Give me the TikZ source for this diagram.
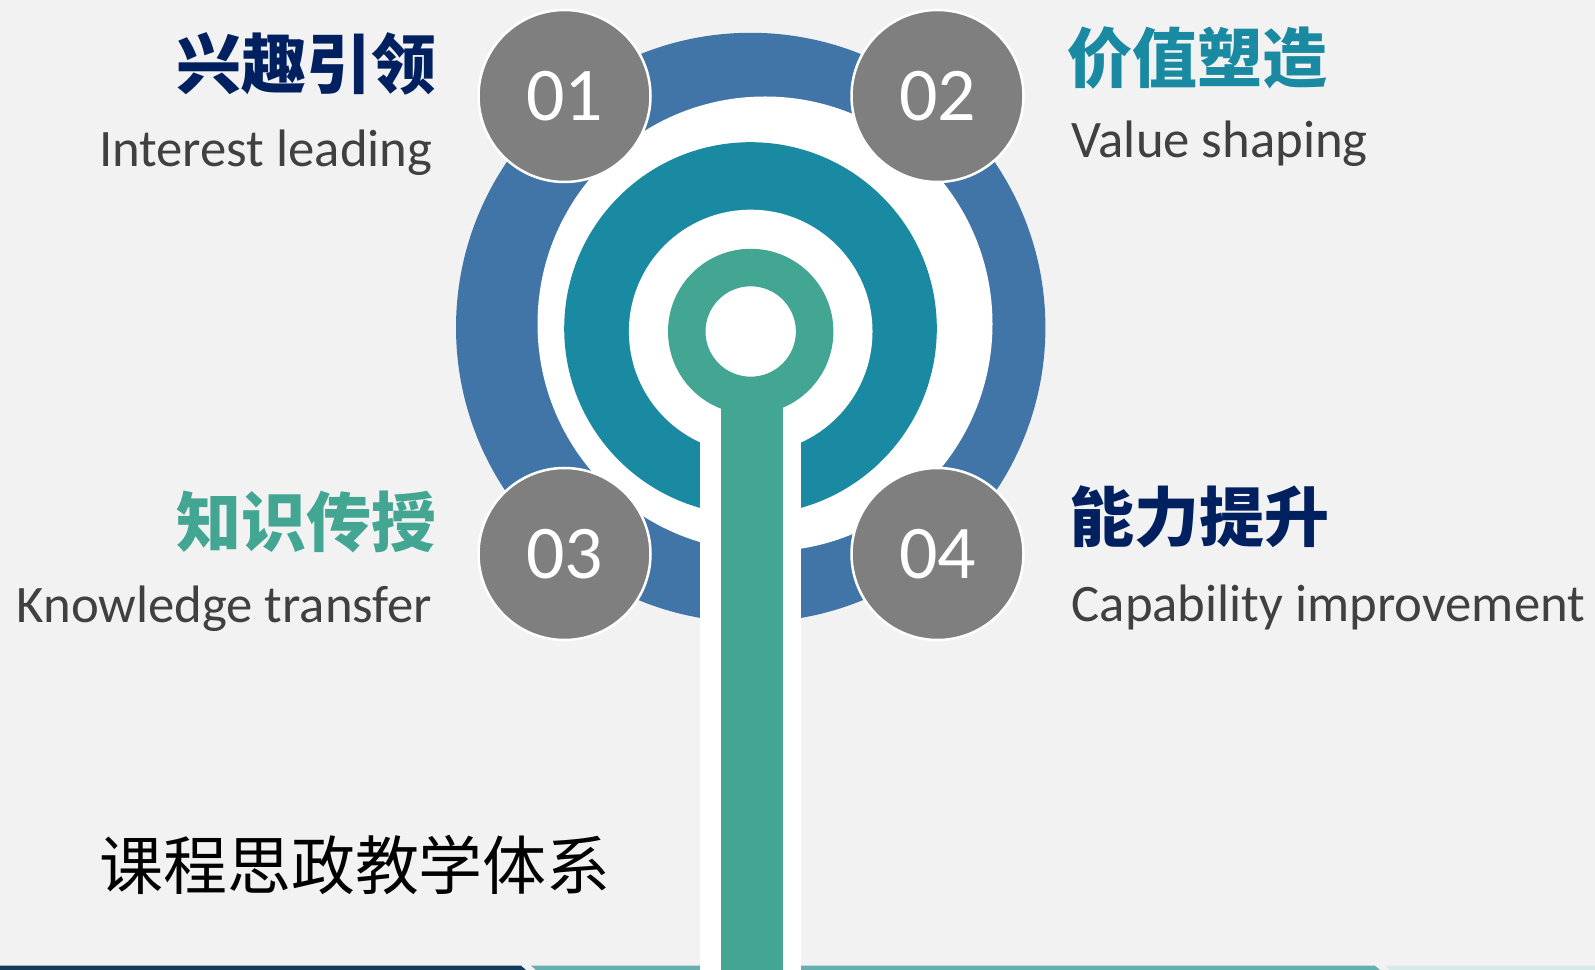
\documentclass[tikz,border=0pt]{standalone}
\usepackage{fontspec}
\setmainfont{Carlito}
\newfontfamily\cjk{Noto Sans CJK SC}
\usetikzlibrary{positioning,calc}
\definecolor{bgfill}{HTML}{F2F2F2}
\definecolor{ringblue}{HTML}{4175A8}
\definecolor{ringteal}{HTML}{1A8AA2}
\definecolor{ringgreen}{HTML}{42A692}
\definecolor{dotgray}{HTML}{7F7F7F}
\definecolor{titlenavy}{HTML}{002060}
\definecolor{labelgray}{HTML}{404040}
\definecolor{barnavy}{HTML}{113A5C}
\definecolor{barteal}{HTML}{67AEB0}
\definecolor{barlight}{HTML}{D6E9EB}

\begin{document}
\begin{tikzpicture}[
  x=0.1mm, y=-0.1mm,
  numdot/.style={circle, draw=white, line width=0.25mm, fill=dotgray, minimum size=17.2mm, inner sep=0pt, text=white, font=\fontsize{21.6}{24}\selectfont},
  cntitle/.style={inner sep=0pt, font=\cjk\bfseries\fontsize{18.5}{20}\selectfont},
  engtext/.style={inner sep=0pt, text=labelgray, font=\fontsize{15}{18}\selectfont}
]
  \fill[bgfill] (0,0) rectangle (1595,970);
  \useasboundingbox (0,0) rectangle (1595,970);

  % bottom bars
  \fill[barnavy] (0,965.7) -- (521,965.7) -- (526,970) -- (0,970) -- cycle;
  \fill[barteal] (531,965.7) -- (1375,965.7) -- (1380,970) -- (536,970) -- cycle;
  \fill[barlight] (1385,965.7) -- (1595,965.7) -- (1595,970) -- (1390,970) -- cycle;

  % rings
  \coordinate (hub) at (750.7,331.5);
  \fill[ringblue] (750.7,327.5) circle[radius=294.7];
  \fill[white] (765,324) circle[radius=227.5];
  \fill[ringteal] (750.5,328.5) circle[radius=186.3];
  \fill[white] (hub) circle[radius=121.8];
  \fill[white] (700,331.5) rectangle (801,970);
  \fill[ringgreen, even odd rule] (hub) circle[radius=82.7] (hub) circle[radius=45.2];
  \fill[ringgreen] (720.7,395) rectangle (783,970);

  % numbered dots
  \node[numdot] (d1) at (564.5,96) {01};
  \node[numdot] (d2) at (937.5,96) {02};
  \node[numdot] (d3) at (564.5,554) {03};
  \node[numdot] (d4) at (937.5,554) {04};

  % labels
  \node[cntitle, text=titlenavy, anchor=east] (t1) at (437,64) {兴趣引领};
  \node[engtext, anchor=base east] (e1) at (433,167) {Interest leading};
  \node[cntitle, text=ringteal, anchor=west] (t2) at (1067,58) {价值塑造};
  \node[engtext, anchor=base west] (e2) at (1071,157.3) {Value shaping};
  \node[cntitle, text=ringgreen, anchor=east] (t3) at (437,522) {知识传授};
  \node[engtext, anchor=base east] (e3) at (433,622.5) {Knowledge transfer};
  \node[cntitle, text=titlenavy, anchor=west] (t4) at (1069,517) {能力提升};
  \node[engtext, anchor=base west] (e4) at (1071,621.7) {Capability improvement};

  \node[inner sep=0pt, font=\cjk\fontsize{18.2}{20}\selectfont] (sys) at (355,865) {课程思政教学体系};
\end{tikzpicture}
\end{document}
